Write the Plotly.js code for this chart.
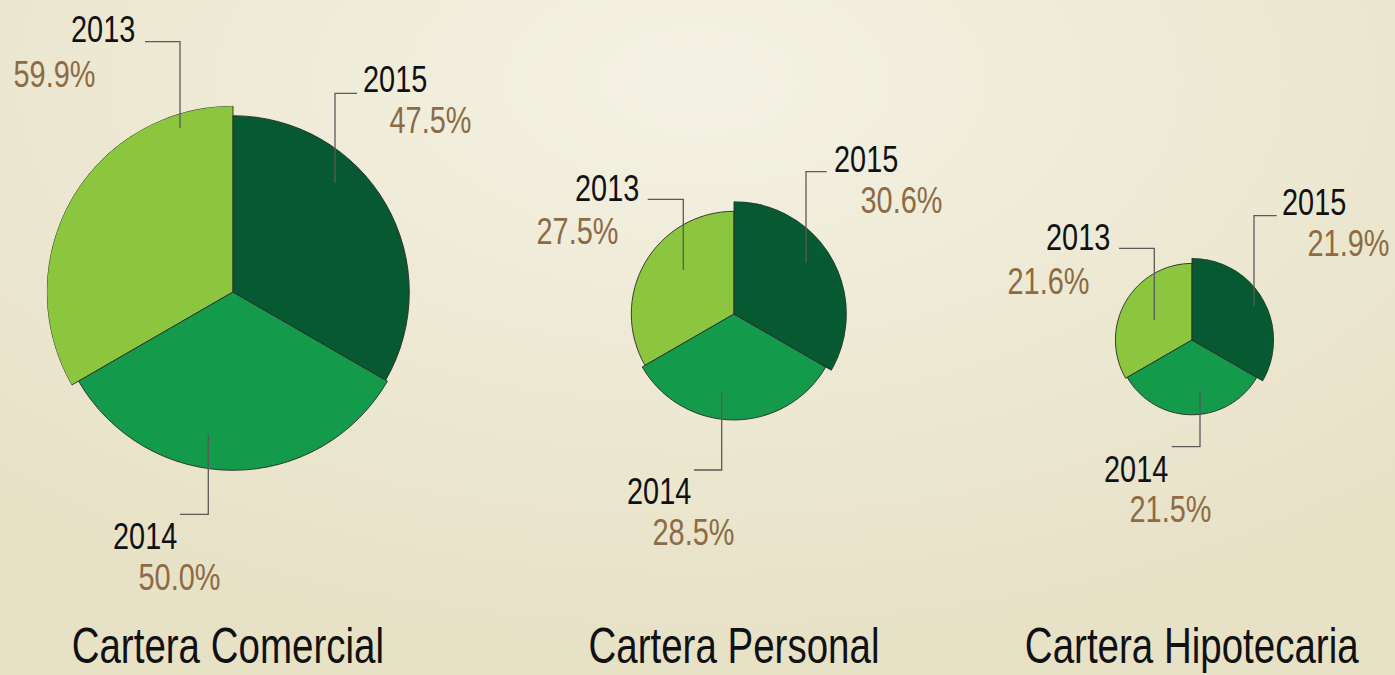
<!DOCTYPE html>
<html>
<head>
<meta charset="utf-8">
<script src="https://cdn.plot.ly/plotly-3.0.1.min.js"></script>
<style>
  html, body { margin: 0; padding: 0; }
  body {
    width: 1395px; height: 675px; overflow: hidden;
    background: radial-gradient(ellipse 75% 85% at 50% 12%, #f4f2e5 0%, #eeead5 45%, #e7e1c6 100%);
  }
  #chart { width: 1395px; height: 675px; }
</style>
</head>
<body>
<div id="chart"></div>
<script>
// ---- data ----
const years = ['2013', '2014', '2015'];
const comercial = [59.9, 50.0, 47.5];
const personal = [27.5, 28.5, 30.6];
const hipotecaria = [21.6, 21.5, 21.9];
const carteras = ['Cartera Comercial', 'Cartera Personal', 'Cartera Hipotecaria'];

// ---- layout constants ----
const W = 1395, H = 675;
const px = x => x / W;
const py = y => 1 - y / H;
const yearColors = ['#8cc63f', '#139b4b', '#065930'];
const yearTheta = [300, 180, 60];
const pctColor = '#8c6b45';
const FONT = '"Liberation Sans", Arial, sans-serif';
const LABEL_SQUEEZE = 0.78;
const TITLE_SQUEEZE = 0.77;

// each pie: centre (px), outer radius (px), radial axis floor
const pies = [
  { vals: comercial,   cx: 233,  cy: 292, R: 186.3, lo: -171.0, titleX: 228 },
  { vals: personal,    cx: 734,  cy: 314, R: 112.8, lo: -4.0,   titleX: 734 },
  { vals: hipotecaria, cx: 1192, cy: 340, R: 82.0,  lo: 17.36,  titleX: 1192 }
];

// label placements: [x-centre, y-centre] for year and pct per year (2013, 2014, 2015)
const labelPos = [
  { year: [[102.5, 30], [144.5, 536], [394.5, 79]], pct: [[55, 74.5], [179, 577.5], [430, 121]] },
  { year: [[606.7, 188], [659, 491], [865.8, 159.5]], pct: [[577, 231.7], [693.7, 532], [901, 200]] },
  { year: [[1077.5, 237], [1136.3, 469.7], [1313.8, 202.5]], pct: [[1048.3, 281], [1170.8, 509.7], [1348.8, 243.7]] }
];
const leaders = [
  [[[145, 41.7], [180, 41.7], [180, 128]], [[208.3, 435], [208.3, 514.3], [180, 514.3]], [[357, 93.3], [335, 93.3], [335, 183]]],
  [[[647.7, 199.3], [683.3, 199.3], [683.3, 270]], [[721.7, 391.7], [721.7, 470], [694, 470]], [[826.7, 171.7], [806, 171.7], [806, 262.7]]],
  [[[1119, 248.3], [1154.3, 248.3], [1154.3, 320]], [[1200, 390.7], [1200, 446.7], [1171.7, 446.7]], [[1276.7, 215.7], [1254, 215.7], [1254, 306]]]
];

const data = [];
const layout = {
  width: W, height: H,
  margin: { l: 0, r: 0, t: 0, b: 0 },
  paper_bgcolor: 'rgba(0,0,0,0)',
  plot_bgcolor: 'rgba(0,0,0,0)',
  showlegend: false,
  annotations: [],
  shapes: []
};
const squeeze = [];

pies.forEach((p, i) => {
  const sub = i === 0 ? 'polar' : 'polar' + (i + 1);
  const hi = Math.max(...p.vals);
  data.push({
    type: 'barpolar',
    subplot: sub,
    r: p.vals.map(v => v - p.lo),
    base: p.lo,
    theta: yearTheta,
    width: [120, 120, 120],
    text: years,
    marker: { color: yearColors, line: { color: '#2b2b2b', width: 0.9 } },
    hoverinfo: 'skip'
  });
  layout[sub] = {
    domain: { x: [px(p.cx - p.R), px(p.cx + p.R)], y: [py(p.cy + p.R), py(p.cy - p.R)] },
    bgcolor: 'rgba(0,0,0,0)',
    bargap: 0,
    radialaxis: { visible: false, range: [p.lo, hi], showgrid: false, showline: false, showticklabels: false, ticks: '' },
    angularaxis: { visible: false, rotation: 90, direction: 'clockwise', showgrid: false, showline: false, showticklabels: false, ticks: '' }
  };
  years.forEach((y, k) => {
    const yp = labelPos[i].year[k], pp = labelPos[i].pct[k];
    layout.annotations.push({
      xref: 'paper', yref: 'paper', x: px(yp[0]), y: py(yp[1]),
      xanchor: 'center', yanchor: 'middle', showarrow: false, text: y, borderpad: 0,
      font: { family: FONT, size: 37, color: '#111111' }
    });
    squeeze.push(LABEL_SQUEEZE);
    layout.annotations.push({
      xref: 'paper', yref: 'paper', x: px(pp[0]), y: py(pp[1]),
      xanchor: 'center', yanchor: 'middle', showarrow: false, text: p.vals[k].toFixed(1) + '%', borderpad: 0,
      font: { family: FONT, size: 37, color: pctColor }
    });
    squeeze.push(LABEL_SQUEEZE);
    const pts = leaders[i][k];
    const path = pts.map((q, j) => (j ? 'L' : 'M') + px(q[0]) + ',' + py(q[1])).join(' ');
    layout.shapes.push({ type: 'path', xref: 'paper', yref: 'paper', path: path,
      line: { color: '#5a5a5a', width: 1.3 } });
  });
  layout.annotations.push({
    xref: 'paper', yref: 'paper', x: px(p.titleX), y: py(645.5),
    xanchor: 'center', yanchor: 'middle', showarrow: false, text: carteras[i], borderpad: 0,
    font: { family: FONT, size: 50, color: '#111111' }
  });
  squeeze.push(TITLE_SQUEEZE);
});

Plotly.newPlot('chart', data, layout, { displayModeBar: false, staticPlot: true }).then(gd => {
  // condensed look: narrow each text horizontally around its centre
  const groups = gd.querySelectorAll('.annotation');
  groups.forEach((g, idx) => {
    const s = squeeze[idx] || LABEL_SQUEEZE;
    const t = g.querySelector('text');
    if (t) {
      const len = t.getComputedTextLength();
      t.setAttribute('textLength', (len * s).toFixed(2));
      t.setAttribute('lengthAdjust', 'spacingAndGlyphs');
    }
    g.querySelectorAll('rect').forEach(r => {
      const w = parseFloat(r.getAttribute('width'));
      const x = parseFloat(r.getAttribute('x') || 0);
      if (isFinite(w)) {
        r.setAttribute('width', (w * s).toFixed(2));
        r.setAttribute('x', (x + w * (1 - s) / 2).toFixed(2));
      }
    });
  });
});
</script>
</body>
</html>
